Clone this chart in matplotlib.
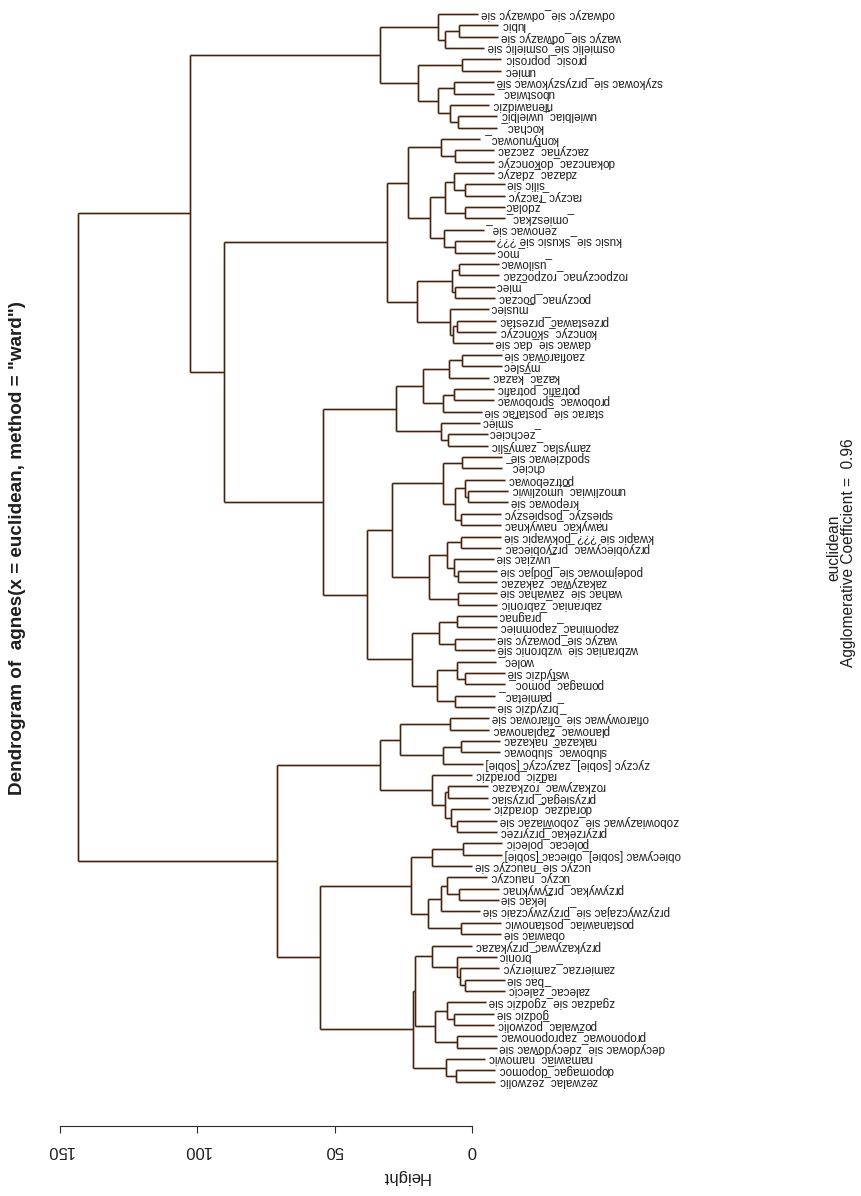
"""Rotated agnes dendrogram (ward) of Polish verb pairs."""
import matplotlib

matplotlib.use("Agg")
import matplotlib.pyplot as plt
from matplotlib.collections import LineCollection

plt.rcParams["font.family"] = ["Liberation Sans", "DejaVu Sans"]

# leaf labels in drawing order (top of the page -> bottom)
labels = [
    "odwazyc sie_odwazyc sie", "lubic", "wazyc sie_odwazyc sie",
    "osmielic sie_osmielic sie", "prosic_poprosic", "umiec",
    "szykowac sie_przyszykowac sie", "ubostwiac_", "nienawidzic",
    "uwielbiac_uwielbic", "kochac_", "kontynuowac_", "zaczynac_zaczac",
    "dokanczac_dokonczyc", "zdazac_zdazyc", "silic sie", "raczyc_raczyc",
    "_zdolac", "_omieszkac_", "zenowac sie_", "kusic sie_skusic sie ???",
    "_moc", "_usilowac", "rozpoczynac_rozpoczac", "_miec",
    "poczynac_poczac", "_musiec", "przestawac_przestac",
    "konczyc_skonczyc", "dawac sie_dac sie", "zaofiarowac sie", "_myslec",
    "kazac_kazac", "potrafic_potrafic", "probowac_sprobowac",
    "starac sie_postarac sie", "_smiec", "_zechciec", "zamyslac_zamyslic",
    "spodziewac sie_", "chciec_", "potrzebowac", "umozliwiac_umozliwic",
    "krepowac sie", "spieszyc_pospieszyc", "nawykac_nawyknac",
    "kwapic sie ???_pokwapic sie", "przyobiecywac_przyobiecac",
    "_uwziac sie", "podejmowac sie_podjac sie", "zakazywac_zakazac",
    "wahac sie_zawahac sie", "zabraniac_zabronic", "_pragnac",
    "zapominac_zapomniec", "wazyc sie_powazyc sie",
    "wzbraniac sie_wzbronic sie", "wolec_", "wstydzic sie",
    "pomagac_pomoc_", "pamietac_", "_brzydzic sie",
    "ofiarowywac sie_ofiarowac sie", "planowac_zaplanowac",
    "nakazac_nakazac", "slubowac_slubowac",
    "zyczyc [sobie]_zazyczyc [sobie]", "radzic_poradzic",
    "rozkazywac_rozkazac", "przysiegac_przysiac", "doradzac_doradzic",
    "zobowiazywac sie_zobowiazac sie", "przyrzekac_przyrzec",
    "polecac_polecic", "obiecywac [sobie]_obiecac [sobie]",
    "uczyc sie_nauczyc sie", "uczyc_nauczyc", "przywykac_przywyknac",
    "_lekac sie", "przyzwyczajac sie_przyzwyczaic sie",
    "postanawiac_postanowic", "obawiac sie", "przykazywac_przykazac",
    "_bronic", "zamierzac_zamierzyc", "bac sie", "zalecac_zalecic",
    "zgadzac sie_zgodzic sie", "godzic sie", "pozwalac_pozwolic",
    "proponowac_zaproponowac", "decydowac sie_zdecydowac sie",
    "namawiac_namowic", "dopomagac_dopomoc", "zezwalac_zezwolic",
]

# merge table, R style: negative = leaf number (1-based), positive = earlier row
merge_a = [-2, 1, -1, -5, -7, -10, -9, 5, 4, 3,
           -13, -12, -16, -15, -18, 14, -21, -20, 16, 12,
           -23, -25, 21, -28, 24, -27, 23, 20,
           -31, 29, -34, 31, 30, -38, -37, 33,
           -40, -43, -42, -45, 39, 37,
           -47, -50, -49, 43, -52, 46, 42,
           -54, -56, 50, -59, -58, -61, 54, 52, 49, 36, 28, 10,
           -63, -65, 63, 62, -69, -72, -71, 66, -68, 65,
           -74, 72, -78, -77, 75, -81, 76, 73,
           -86, -85, -84, -83, -89, -88, -91, 85, 83, -94, -93, 88,
           79, 71, 61]
merge_b = [-3, -4, 2, -6, -8, -11, 6, 7, 8, 9,
           -14, 11, -17, 13, -19, 15, -22, 17, 18, 19,
           -24, -26, 22, -29, -30, 25, 26, 27,
           -32, -33, -35, -36, 32, -39, 34, 35,
           -41, -44, 38, -46, 40, 41,
           -48, -51, 44, 45, -53, 47, 48,
           -55, -57, 51, -60, 53, -62, 55, 56, 57, 58, 59, 60,
           -64, -66, -67, 64, -70, -73, 67, 68, 69, 70,
           -75, -76, -79, 74, -80, -82, 77, 78,
           -87, 80, 81, 82, -90, 84, -92, 86, 87, -95, 89, 90,
           91, 92, 93]
merge_h = [4.7, 9.8, 12.2, 3.6, 6.5, 5.1, 8.0, 12.2, 19.6, 33.5,
           6.2, 11.3, 2.5, 6.5, 2.5, 9.8, 6.1, 10.1, 15.3, 23.2,
           4.6, 6.1, 7.4, 5.6, 6.8, 8.0, 20.1, 30.8,
           3.5, 8.2, 6.4, 10.7, 17.7, 8.6, 11.4, 27.6,
           3.5, 1.3, 2.5, 3.8, 6.2, 10.7,
           3.8, 5.2, 6.5, 9.2, 5.2, 15.5, 29.2,
           5.3, 6.1, 11.9, 2.4, 5.6, 6.1, 12.6, 21.9, 38.3, 54.1, 90.2, 102.5,
           8.0, 4.1, 10.4, 26.2, 8.6, 5.3, 7.7, 9.8, 14.4, 33.5,
           3.4, 14.4, 4.6, 9.0, 11.4, 3.8, 16.1, 22.3,
           2.5, 4.4, 5.3, 14.4, 6.4, 9.2, 5.3, 13.3, 20.7, 5.8, 9.6, 21.6,
           55.3, 71.0, 143.6]

height_ticks = [0, 50, 100, 150]
title = 'Dendrogram of  agnes(x = euclidean, method = "ward")'
xlab = "euclidean"
sub = "Agglomerative Coefficient =  0.96"

hang = 0.1 * max(merge_h)
ink = "#2e2a28"
fringe = "#f0a27a"
txt = "#1e1e1e"

# leaf order from the tree, top child first
pos = {}


def place(node):
    if node < 0:
        pos[node] = len(pos)
        return
    place(merge_a[node - 1])
    place(merge_b[node - 1])


node_y = {}


def ycoord(node):
    if node < 0:
        return pos[node]
    if node not in node_y:
        k = node - 1
        node_y[node] = (ycoord(merge_a[k]) + ycoord(merge_b[k])) / 2
    return node_y[node]


place(len(merge_h))

segs = []
leaf_ends = {}
for k, h in enumerate(merge_h):
    ya, yb = ycoord(merge_a[k]), ycoord(merge_b[k])
    segs.append([(h, ya), (h, yb)])
    for child, yc in ((merge_a[k], ya), (merge_b[k], yb)):
        hc = merge_h[child - 1] if child > 0 else h - hang
        if child < 0:
            leaf_ends[child] = hc
        segs.append([(h, yc), (hc, yc)])

fig = plt.figure(figsize=(8.61, 11.96), dpi=100)
ax = fig.add_axes([55 / 861, 1 - 1090 / 1196, 465 / 861, 1082 / 1196])
ax.set_xlim(151.8, -17.5)
ax.set_ylim(94.72, -0.53)

ax.add_collection(LineCollection(segs, colors=fringe, linewidths=2.0, alpha=0.55))
ax.add_collection(LineCollection(segs, colors=ink, linewidths=1.0))

for leaf, hc in leaf_ends.items():
    ax.text(hc - 1.0, pos[leaf], labels[-leaf - 1], rotation=180,
            ha="left", va="center", fontsize=8.4, color=txt)

for side in ("top", "right", "left"):
    ax.spines[side].set_visible(False)
ax.spines["bottom"].set_bounds(0, 150)
ax.spines["bottom"].set_position(("outward", 26))
ax.spines["bottom"].set_color(ink)
ax.set_yticks([])
ax.set_xticks(height_ticks)
ax.set_xticklabels([str(t) for t in height_ticks], rotation=180, fontsize=12)
ax.tick_params(axis="x", length=5, pad=7, color=ink, labelcolor=txt)
ax.set_xlabel("Height", rotation=180, fontsize=12, color=txt)
ax.xaxis.set_label_coords(0.753, -0.073)

fig.text(18 / 861, 1 - 548 / 1196, title, rotation=90, ha="center",
         va="center", fontsize=13.6, fontweight="bold", color=txt)
fig.text(834 / 861, 1 - 548 / 1196, xlab, rotation=90, ha="center",
         va="center", fontsize=11.2, color=txt)
fig.text(849 / 861, 1 - 553 / 1196, sub, rotation=90, ha="center",
         va="center", fontsize=11.2, color=txt)

fig.savefig("out.png", dpi=100, facecolor="white")
